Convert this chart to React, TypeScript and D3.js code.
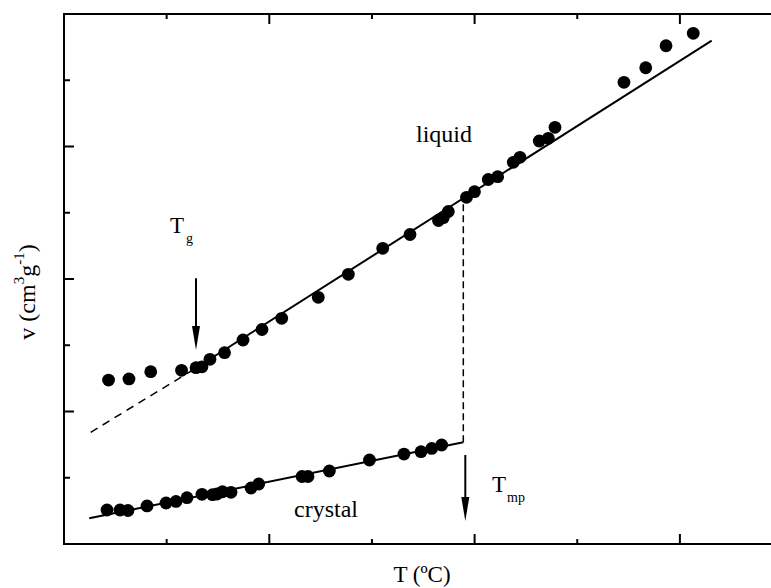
import React from "react";
import * as d3 from "d3";

// Specific volume v versus temperature T (arbitrary units on both axes)
const liquidT = [4.34, 6.33, 8.45, 11.45, 12.86, 13.44, 14.22, 15.64, 17.44, 19.29, 21.21, 24.77, 27.7, 31.05, 33.71, 36.48, 36.95, 37.44, 39.21, 39.99, 41.33, 42.25, 43.77, 44.42, 46.3, 47.18, 47.83, 54.55, 56.67, 58.65, 61.3];
const liquidV = [2.475, 2.491, 2.601, 2.622, 2.661, 2.675, 2.788, 2.888, 3.079, 3.238, 3.407, 3.724, 4.071, 4.463, 4.672, 4.883, 4.925, 5.019, 5.233, 5.318, 5.502, 5.544, 5.761, 5.837, 6.083, 6.124, 6.29, 6.969, 7.189, 7.521, 7.709];

const crystalT = [4.19, 5.46, 6.23, 8.09, 9.94, 10.91, 11.98, 13.44, 14.47, 14.9, 15.44, 16.27, 18.22, 18.97, 23.19, 23.77, 25.85, 29.76, 33.12, 34.78, 35.82, 36.79];
const crystalV = [0.513, 0.513, 0.506, 0.574, 0.619, 0.642, 0.699, 0.75, 0.744, 0.755, 0.789, 0.78, 0.845, 0.906, 1.019, 1.019, 1.102, 1.268, 1.358, 1.393, 1.442, 1.494];

// Linear fits (end points in data units)
const liquidFitT = [12.27, 63.1];
const liquidFitV = [2.6, 7.597];
const glassExtrapT = [2.6, 12.27];
const glassExtrapV = [1.686, 2.6];
const crystalFitT = [2.46, 38.9];
const crystalFitV = [0.388, 1.535];

// Transition temperatures
const Tg = 12.86;
const Tmp = 38.9;

const xDomain = [0, 80];
const yDomain = [0, 8];
const xMajorTicks = [0, 20, 40, 60, 80];
const xMinorTicks = [10, 30, 50, 70];
const yMajorTicks = [0, 2, 4, 6, 8];
const yMinorTicks = [1, 3, 5, 7];

const W = 771;
const H = 588;
const FONT = "'Liberation Serif', 'Times New Roman', serif";

export default function App() {
  const x = d3.scaleLinear().domain(xDomain).range([64, 885.2]);
  const y = d3.scaleLinear().domain(yDomain).range([544, 14]);

  const line = d3
    .line<[number, number]>()
    .x((d) => x(d[0]))
    .y((d) => y(d[1]));

  const zip = (a: number[], b: number[]) => a.map((t, i) => [t, b[i]] as [number, number]);

  const liquidLineV = (t: number) =>
    liquidFitV[0] + ((t - liquidFitT[0]) * (liquidFitV[1] - liquidFitV[0])) / (liquidFitT[1] - liquidFitT[0]);
  const crystalLineV = (t: number) =>
    crystalFitV[0] + ((t - crystalFitT[0]) * (crystalFitV[1] - crystalFitV[0])) / (crystalFitT[1] - crystalFitT[0]);

  const x0 = x(xDomain[0]);
  const x1 = x(xDomain[1]);
  const y0 = y(yDomain[0]);
  const y1 = y(yDomain[1]);

  const arrow = (xp: number, yStart: number, yTip: number) => (
    <g>
      <line x1={xp} x2={xp} y1={yStart} y2={yTip - 18} stroke="#000" strokeWidth={2} />
      <path d={`M${xp - 4},${yTip - 24} L${xp + 4},${yTip - 24} L${xp},${yTip} Z`} fill="#000" />
    </g>
  );

  return (
    <svg
      width={W}
      height={H}
      style={{ position: "absolute", left: 0, top: 0, background: "#fff" }}
      fontFamily={FONT}
    >
      {/* frame */}
      <g stroke="#000" strokeWidth={2} fill="none">
        <line x1={x0} x2={x0} y1={y1 - 1} y2={y0 + 1} />
        <line x1={x0 - 1} x2={x1} y1={y0} y2={y0} />
        <line x1={x0 - 1} x2={x1} y1={y1} y2={y1} />
        <line x1={x1} x2={x1} y1={y1} y2={y0} />
      </g>
      {/* ticks, pointing inwards */}
      <g stroke="#000" strokeWidth={2}>
        {xMajorTicks.map((t) => (
          <g key={`xM${t}`}>
            <line x1={x(t)} x2={x(t)} y1={y0} y2={y0 - 10} />
            <line x1={x(t)} x2={x(t)} y1={y1} y2={y1 + 10} />
          </g>
        ))}
        {xMinorTicks.map((t) => (
          <g key={`xm${t}`}>
            <line x1={x(t)} x2={x(t)} y1={y0} y2={y0 - 5} />
            <line x1={x(t)} x2={x(t)} y1={y1} y2={y1 + 5} />
          </g>
        ))}
        {yMajorTicks.map((v) => (
          <line key={`yM${v}`} x1={x0} x2={x0 + 10} y1={y(v)} y2={y(v)} />
        ))}
        {yMinorTicks.map((v) => (
          <line key={`ym${v}`} x1={x0} x2={x0 + 6} y1={y(v)} y2={y(v)} />
        ))}
      </g>

      {/* fitted lines */}
      <path d={line(zip(liquidFitT, liquidFitV)) || ""} stroke="#000" strokeWidth={2} fill="none" />
      <path
        d={line(zip(glassExtrapT, glassExtrapV)) || ""}
        stroke="#000"
        strokeWidth={1.5}
        strokeDasharray="8,6"
        fill="none"
      />
      <path d={line(zip(crystalFitT, crystalFitV)) || ""} stroke="#000" strokeWidth={2} fill="none" />
      <line
        x1={x(Tmp)}
        x2={x(Tmp)}
        y1={y(crystalLineV(Tmp))}
        y2={y(liquidLineV(Tmp))}
        stroke="#000"
        strokeWidth={1.5}
        strokeDasharray="7,4"
      />

      {/* data points */}
      <g fill="#000">
        {liquidT.map((t, i) => (
          <circle key={`l${i}`} cx={x(t)} cy={y(liquidV[i])} r={6.4} />
        ))}
        {crystalT.map((t, i) => (
          <circle key={`c${i}`} cx={x(t)} cy={y(crystalV[i])} r={6.4} />
        ))}
      </g>

      {/* transition markers */}
      {arrow(x(Tg), y(4.011), y(2.928))}
      {arrow(x(Tmp) + 2, y(1.343), y(0.347))}

      {/* annotations */}
      <text x={170} y={233} fontSize={23}>
        T<tspan fontSize={14} dy={10} dx={2}>g</tspan>
      </text>
      <text x={492} y={492} fontSize={23}>
        T<tspan fontSize={14} dy={10} dx={1}>mp</tspan>
      </text>
      <text x={416} y={142} fontSize={24}>
        liquid
      </text>
      <text x={294} y={517} fontSize={24}>
        crystal
      </text>

      {/* axis titles */}
      <text x={422} y={582} fontSize={23} textAnchor="middle">
        T (ºC)
      </text>
      <text transform="translate(35,292) rotate(-90)" fontSize={24} textAnchor="middle">
        v (cm<tspan fontSize={15} dy={-11}>3</tspan>
        <tspan dy={11}>g</tspan>
        <tspan fontSize={15} dy={-11}>-1</tspan>
        <tspan dy={11}>)</tspan>
      </text>
    </svg>
  );
}
